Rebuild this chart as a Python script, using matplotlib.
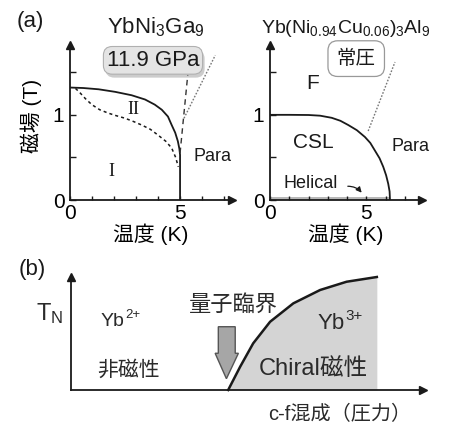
import matplotlib.pyplot as plt
import matplotlib.patheffects as pe
from matplotlib.patches import Polygon

plt.rcParams['font.family'] = ['Liberation Sans', 'Noto Sans CJK JP']
plt.rcParams['mathtext.fontset'] = 'custom'
plt.rcParams['mathtext.rm'] = 'Liberation Sans'
plt.rcParams['mathtext.it'] = 'Liberation Sans:italic'
plt.rcParams['axes.unicode_minus'] = False

# (a) left: YbNi3Ga9, 11.9 GPa
left_solid_t = [0.05, 0.6, 1.3, 2.05, 2.8, 3.41, 3.85, 4.17, 4.45, 4.62, 4.78, 4.9, 4.97, 5.0, 5.0]
left_solid_b = [1.32, 1.315, 1.3, 1.27, 1.23, 1.18, 1.12, 1.06, 0.98, 0.88, 0.79, 0.69, 0.6, 0.53, 0.0]
left_dash_t = [0.25, 0.45, 0.7, 0.99, 1.35, 1.74, 2.1, 2.5, 2.9, 3.26, 3.65, 4.01, 4.35, 4.62, 4.8, 4.92]
left_dash_b = [1.31, 1.26, 1.19, 1.12, 1.06, 1.02, 0.99, 0.96, 0.92, 0.88, 0.83, 0.76, 0.69, 0.61, 0.5, 0.39]
left_guide_t = [5.0, 5.35]
left_guide_b = [0.55, 1.47]
left_dot_t = [5.18, 6.6]
left_dot_b = [0.96, 1.7]

# (a) right: Yb(Ni0.94Cu0.06)3Al9, ambient pressure
right_solid_t = [0.0, 1.0, 2.0, 2.6, 3.2, 3.65, 4.06, 4.5, 4.92, 5.2, 5.44, 5.68, 5.87, 6.02, 6.13, 6.2, 6.22]
right_solid_b = [1.0, 1.0, 0.998, 0.99, 0.965, 0.93, 0.88, 0.82, 0.74, 0.67, 0.58, 0.49, 0.39, 0.29, 0.19, 0.1, 0.0]
helical_t = [0.0, 6.2]
helical_b = [0.035, 0.035]
right_dot_t = [5.09, 6.48]
right_dot_b = [0.81, 1.62]

# (b) schematic T_N vs c-f hybridization
tn_x = [4.47, 4.81, 5.18, 5.66, 6.32, 7.08, 7.83, 8.69]
tn_y = [0.0, 0.206, 0.413, 0.604, 0.767, 0.885, 0.958, 1.0]

ink = '#1a1a1a'
fig = plt.figure(figsize=(4.52, 4.25), dpi=100)
W, H = 452.0, 425.0


def make_axes(x0, y0, x1, y1, xmax, ymax):
    ax = fig.add_axes([x0 / W, 1 - y0 / H, (x1 - x0) / W, (y0 - y1) / H])
    ax.set_xlim(0, xmax)
    ax.set_ylim(0, ymax)
    for s in ['top', 'right']:
        ax.spines[s].set_visible(False)
    for s in ['left', 'bottom']:
        ax.spines[s].set_linewidth(1.3)
        ax.spines[s].set_color(ink)
    ax.plot(1, 0, '>', color=ink, ms=6, transform=ax.transAxes, clip_on=False)
    ax.plot(0, 1, '^', color=ink, ms=6, transform=ax.transAxes, clip_on=False)
    ax.patch.set_alpha(0)
    return ax


def phase_axes(ax):
    ax.set_xticks(range(0, 8))
    ax.set_xticklabels(['0', '', '', '', '', '5', '', ''])
    ax.set_yticks([0, 0.5, 1.0, 1.5])
    ax.set_yticklabels(['0', '', '1', ''])
    ax.tick_params(axis='x', direction='in', length=3, width=1, color=ink, labelsize=15, pad=3)
    ax.tick_params(axis='y', direction='in', length=4, width=1, color=ink, labelsize=15, pad=4)
    ax.set_xlabel('温度 (K)', fontsize=15, labelpad=0)


def ion_label(ax, x, y, base, sup, size, color):
    # base text + superscript placed right after it
    t = ax.text(x, y, base, fontsize=size, ha='left', va='center', color=color)
    ax.annotate(sup, xy=(1.0, 0.5), xycoords=t, xytext=(0.5, 0), textcoords='offset points',
                fontsize=size * 0.68, ha='left', va='bottom', color=color)


# ---- (a) left
ax1 = make_axes(70, 200, 232, 45, 7.36, 1.82)
phase_axes(ax1)
ax1.set_ylabel('磁場 (T)', fontsize=15)
ax1.yaxis.set_label_coords(-0.17, 0.54)
ax1.plot(left_solid_t, left_solid_b, color=ink, lw=1.3)
ax1.plot(left_dash_t, left_dash_b, color=ink, lw=1.1, ls=(0, (2, 2)))
ax1.plot(left_guide_t, left_guide_b, color='#333333', lw=1.0, ls=(0, (4, 3)), clip_on=False)
ax1.plot(left_dot_t, left_dot_b, color='#777777', lw=1.0, ls=(0, (1.2, 1.2)), clip_on=False)
ax1.text(2.88, 1.06, 'II', family='Liberation Serif', fontsize=13, ha='center', va='center', color=ink)
ax1.text(1.9, 0.33, 'I', family='Liberation Serif', fontsize=13, ha='center', va='center', color=ink)
ax1.text(5.62, 0.51, 'Para', fontsize=13, ha='left', va='center', color=ink, clip_on=False)
ax1.set_title('YbNi$_3$Ga$_9$', fontsize=16, pad=8, x=0.53, color=ink)
gpa = ax1.text(3.77, 1.64, '11.9 GPa', fontsize=16, ha='center', va='center', color=ink,
               bbox=dict(boxstyle='round,pad=0.15,rounding_size=0.4', fc='#e4e4e4', ec='#b0b0b0', lw=0.8),
               clip_on=False)
gpa.get_bbox_patch().set_path_effects([
    pe.SimplePatchShadow(offset=(1.5, -2.5), shadow_rgbFace='#9a9a9a', alpha=0.5), pe.Normal()])

# ---- (a) right
ax2 = make_axes(270, 200, 422, 45, 7.88, 1.82)
phase_axes(ax2)
ax2.fill_between(helical_t, 0, helical_b, color='#b8b8b8', lw=0)
ax2.plot(right_solid_t, right_solid_b, color=ink, lw=1.3)
ax2.plot(right_dot_t, right_dot_b, color='#777777', lw=1.0, ls=(0, (1.2, 1.2)), clip_on=False)
ax2.text(2.23, 1.37, 'F', fontsize=15, ha='center', va='center', color=ink)
ax2.text(2.24, 0.67, 'CSL', fontsize=15, ha='center', va='center', color=ink)
ax2.text(7.28, 0.63, 'Para', fontsize=13, ha='center', va='center', color=ink, clip_on=False)
ax2.text(2.1, 0.19, 'Helical', fontsize=13, ha='center', va='center', color=ink)
ax2.annotate('', xy=(4.84, 0.06), xytext=(3.89, 0.16),
             arrowprops=dict(arrowstyle='-|>', color=ink, lw=0.9, mutation_scale=8,
                             connectionstyle='arc3,rad=-0.3'))
ax2.text(4.47, 1.66, '常圧', fontsize=14, ha='center', va='center', color=ink,
         bbox=dict(boxstyle='round,pad=0.45,rounding_size=0.5', fc='white', ec='#999999', lw=0.9), clip_on=False)
ax2.set_title('Yb(Ni$_{0.94}$Cu$_{0.06}$)$_3$Al$_9$', fontsize=14, pad=9, x=0.5, color=ink)

# ---- (b)
ax3 = make_axes(70.7, 390, 423, 277, 10, 1.0)
ax3.set_xticks([])
ax3.set_yticks([])
ax3.fill_between(tn_x, 0, tn_y, color='#d4d4d4', lw=0)
ax3.plot(tn_x, tn_y, color=ink, lw=1.8, clip_on=False)
txt = '#2a2a2a'
ax3.text(-0.2, 0.68, 'T$_{\\mathregular{N}}$', fontsize=17, ha='right', va='center', color=txt)
ion_label(ax3, 0.85, 0.61, 'Yb', '2+', 14, txt)
ax3.text(1.64, 0.18, '非磁性', fontsize=15, ha='center', va='center', color=txt)
ax3.text(4.62, 0.75, '量子臨界', fontsize=16, ha='center', va='center', color=txt)
ion_label(ax3, 7.0, 0.59, 'Yb', '3+', 16, txt)
ax3.text(6.89, 0.19, 'Chiral磁性', fontsize=17, ha='center', va='center', color=txt)
ax3.text(7.64, -0.22, 'c-f混成（圧力）', fontsize=14.5, ha='center', va='center', color=txt, clip_on=False)
arrow_x = [4.19, 4.67, 4.67, 4.76, 4.42, 4.1, 4.19]
arrow_y = [0.56, 0.56, 0.325, 0.325, 0.1, 0.325, 0.325]
ax3.add_patch(Polygon(list(zip(arrow_x, arrow_y)), closed=True, fc='#a6a6a6', ec='#555555', lw=1.0))

fig.text(30 / W, 1 - 22 / H, '(a)', fontsize=16, ha='center', va='center', color=ink)
fig.text(32 / W, 1 - 270 / H, '(b)', fontsize=16, ha='center', va='center', color=ink)

fig.savefig('out.png', dpi=100)
